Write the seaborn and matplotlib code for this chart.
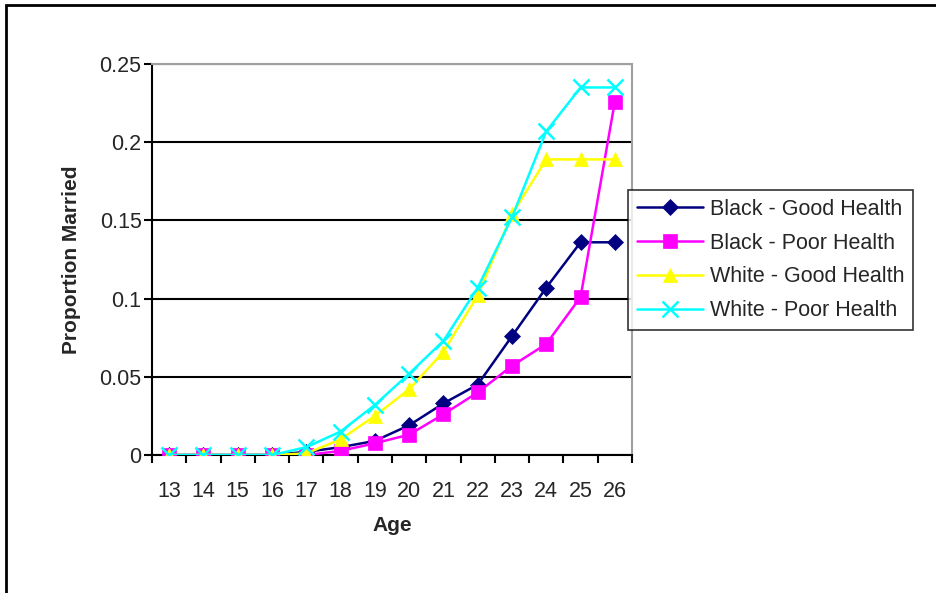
# IMPORTS

import numpy as np
import pandas as pd
import seaborn as sns
import matplotlib.pyplot as plt
from matplotlib.patches import Rectangle
from matplotlib.ticker import MultipleLocator, FixedLocator, FuncFormatter

sns.set_theme(style="white")
plt.rcParams["font.family"] = ["Liberation Sans", "DejaVu Sans"]

# DATA

ages = list(range(13, 27))
black_good = [0, 0, 0, 0, 0.002, 0.005, 0.009, 0.019, 0.033, 0.045, 0.076, 0.107, 0.136, 0.136]
black_poor = [0, 0, 0, 0, 0.0, 0.0026, 0.0075, 0.013, 0.026, 0.040, 0.057, 0.071, 0.101, 0.226]
white_good = [0, 0, 0, 0, 0.001, 0.010, 0.025, 0.042, 0.066, 0.102, 0.154, 0.189, 0.189, 0.189]
white_poor = [0, 0, 0, 0, 0.005, 0.015, 0.032, 0.052, 0.073, 0.107, 0.152, 0.207, 0.235, 0.235]

series_names = [
    "Black - Good Health",
    "Black - Poor Health",
    "White - Good Health",
    "White - Poor Health",
]

df = pd.concat(
    [
        pd.DataFrame({"Age": ages, "Proportion": vals, "Group": name})
        for name, vals in zip(series_names, [black_good, black_poor, white_good, white_poor])
    ],
    ignore_index=True,
)

colors = {
    "Black - Good Health": "#000080",
    "Black - Poor Health": "#FF00FF",
    "White - Good Health": "#FFFF00",
    "White - Poor Health": "#00FFFF",
}
markers = {
    "Black - Good Health": "D",
    "Black - Poor Health": "s",
    "White - Good Health": "^",
    "White - Poor Health": "x",
}
msizes = {
    "Black - Good Health": 8,
    "Black - Poor Health": 10,
    "White - Good Health": 10,
    "White - Poor Health": 11,
}

# VISUALIZATION

fig = plt.figure(figsize=(9.36, 5.93), dpi=100)
ax = fig.add_axes([152 / 936, 1 - 455 / 593, 480 / 936, (455 - 64) / 593])

for name in series_names:
    sub = df[df.Group == name]
    sns.lineplot(
        data=sub, x="Age", y="Proportion", ax=ax,
        color=colors[name], marker=markers[name], markersize=msizes[name],
        markeredgecolor=colors[name], markeredgewidth=1.8 if name.startswith("White - Poor") else 0.5,
        linewidth=1.8, label=name, zorder=3,
    )

# Axes details
ax.set_xlim(12.5, 26.5)
ax.set_ylim(0, 0.25)
ax.yaxis.set_major_locator(MultipleLocator(0.05))
ax.yaxis.set_major_formatter(FuncFormatter(lambda v, p: "0" if abs(v) < 1e-9 else f"{v:g}"))
ax.xaxis.set_major_locator(FixedLocator(ages))
ax.xaxis.set_minor_locator(FixedLocator(np.arange(12.5, 27, 1)))
ax.tick_params(axis="x", which="major", length=0, labelsize=15.5, pad=19)
ax.tick_params(axis="x", which="minor", length=6, width=1.5, color="black", direction="out", bottom=True)
ax.tick_params(axis="y", which="major", length=6, width=1.5, color="black", direction="out", left=True,
               labelsize=15.5, pad=1.5)
ax.grid(axis="y", color="black", linewidth=1.5)
ax.set_axisbelow(True)

for side in ["top", "right"]:
    ax.spines[side].set_color("#A0A0A0")
    ax.spines[side].set_linewidth(1.5)
for side in ["left", "bottom"]:
    ax.spines[side].set_color("black")
    ax.spines[side].set_linewidth(1.5)

ax.set_xlabel("Age", fontsize=15, fontweight="bold", labelpad=10)
ax.set_ylabel("Proportion Married", fontsize=15, fontweight="bold", labelpad=13)

leg = ax.legend(
    loc="upper left", bbox_to_anchor=(628 / 936, 1 - 190 / 593),
    bbox_transform=fig.transFigure, fontsize=15.5, frameon=True, fancybox=False,
    borderpad=0.4, labelspacing=0.6, handlelength=3.1, handletextpad=0.3,
    borderaxespad=0,
)
leg.get_frame().set_edgecolor("black")
leg.get_frame().set_linewidth(1.2)

# Outer frame of the chart
fig.patches.append(
    Rectangle((6 / 936, -0.1), 1.2, 1 - 5 / 593 + 0.1, transform=fig.transFigure,
              fill=False, edgecolor="black", linewidth=2, clip_on=False)
)

fig.savefig("out.png", dpi=100)
